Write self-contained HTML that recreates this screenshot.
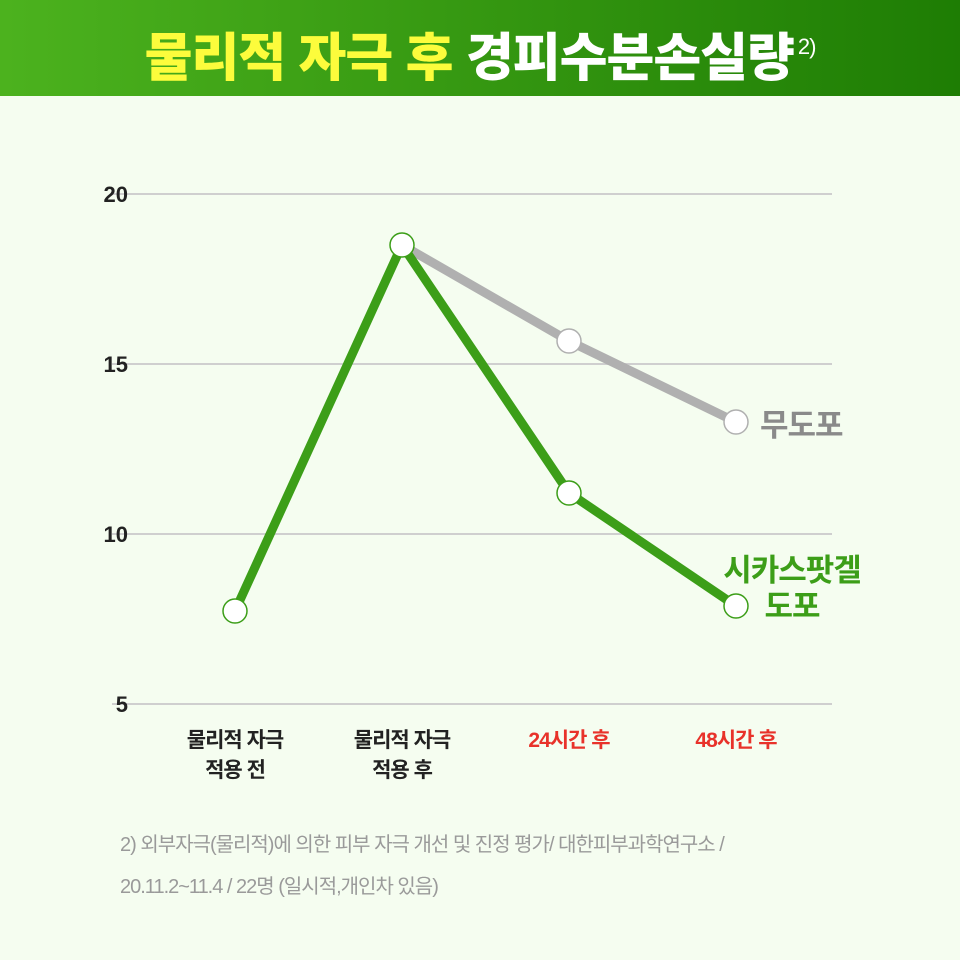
<!DOCTYPE html>
<html><head><meta charset="utf-8"><style>
body{margin:0;width:960px;height:960px;background:#f5fdf0;font-family:"Liberation Sans","Noto Sans CJK KR",sans-serif;overflow:hidden;position:relative}
.hd{position:absolute;left:0;top:0;width:960px;height:96px;background:linear-gradient(90deg,#4cb21e,#1e7d04)}
.t{position:absolute;left:0;width:960px;top:12px;text-align:center;font-weight:900;font-size:52px;letter-spacing:-1px;line-height:70px}
.y{color:#fcfc3c}.w{color:#fff}
sup{font-size:22px;font-weight:400;vertical-align:22px;color:#fff;margin-left:4px}
.fn{position:absolute;left:120px;top:824px;font-size:20px;color:#9a9a9a;line-height:42px;letter-spacing:-1px}
</style></head><body>
<div class="hd"></div>
<div class="t"><span class="y">물리적 자극 후 </span><span class="w">경피수분손실량</span><sup>2)</sup></div>
<svg width="960" height="960" style="position:absolute;left:0;top:0" font-family="Liberation Sans, Noto Sans CJK KR, sans-serif">
<g stroke="#cfcfcf" stroke-width="2">
<line x1="112" y1="194" x2="832" y2="194"/><line x1="112" y1="364" x2="832" y2="364"/><line x1="112" y1="534" x2="832" y2="534"/><line x1="112" y1="704" x2="832" y2="704"/></g>
<g font-size="22" font-weight="bold" fill="#222" text-anchor="end">
<text x="128" y="202">20</text><text x="128" y="372">15</text><text x="128" y="542">10</text><text x="128" y="712">5</text></g>
<polyline points="402,245 569,341 736,422" fill="none" stroke="#b0b0b0" stroke-width="9"/>
<polyline points="235,611 402,245 569,493 736,606" fill="none" stroke="#3c9e18" stroke-width="9"/>
<g fill="#fff" stroke-width="1.5">
<circle cx="235" cy="611" r="12" stroke="#3c9e18"/><circle cx="402" cy="245" r="12" stroke="#3c9e18"/>
<circle cx="569" cy="341" r="12" stroke="#b0b0b0"/><circle cx="736" cy="422" r="12" stroke="#b0b0b0"/>
<circle cx="569" cy="493" r="12" stroke="#3c9e18"/><circle cx="736" cy="606" r="12" stroke="#3c9e18"/></g>
<text x="760" y="436" font-size="31" font-weight="bold" fill="#8a8a8a" letter-spacing="-1">무도포</text>
<text x="792" y="581" font-size="31" font-weight="bold" fill="#3c9e18" text-anchor="middle" letter-spacing="-1">시카스팟겔</text>
<text x="792" y="617" font-size="31" font-weight="bold" fill="#3c9e18" text-anchor="middle" letter-spacing="-1">도포</text>
<g font-size="21" font-weight="bold" text-anchor="middle" letter-spacing="-1">
<text x="235" y="747" fill="#222">물리적 자극</text><text x="235" y="777" fill="#222">적용 전</text>
<text x="402" y="747" fill="#222">물리적 자극</text><text x="402" y="777" fill="#222">적용 후</text>
<text x="569" y="747" fill="#e8322a">24시간 후</text><text x="736" y="747" fill="#e8322a">48시간 후</text></g>
</svg>
<div class="fn">2) 외부자극(물리적)에 의한 피부 자극 개선 및 진정 평가/ 대한피부과학연구소 /<br>20.11.2~11.4 / 22명 (일시적,개인차 있음)</div>
</body></html>
